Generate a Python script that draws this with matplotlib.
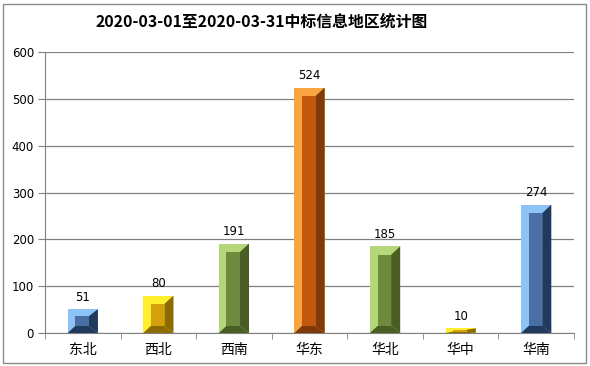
import matplotlib.pyplot as plt
from matplotlib.patches import Polygon, Rectangle

plt.rcParams["font.family"] = ["Noto Sans CJK SC", "DejaVu Sans"]

TITLE = "2020-03-01至2020-03-31中标信息地区统计图"
regions = ["东北", "西北", "西南", "华东", "华北", "华中", "华南"]
counts = [51, 80, 191, 524, 185, 10, 274]
yticks = [0, 100, 200, 300, 400, 500, 600]

# (light face, inner face, dark bevel) per colour family
palette = {
    "blue":   ("#8EC4F5", "#4A6FA4", "#1F3A5C"),
    "yellow": ("#FFEF2E", "#D4A00E", "#8C6C00"),
    "green":  ("#B6D67A", "#6E8B3D", "#4A5E24"),
    "orange": ("#F8A540", "#C0590E", "#7F3A0A"),
}
bar_colors = ["blue", "yellow", "green", "orange", "green", "yellow", "blue"]

BAR_W = 0.40
BEV_L, BEV_R = 0.10, 0.12
BEV_T, BEV_B = 18, 15


def draw_bevel_bar(ax, xc, h, colors):
    light, mid, dark = colors
    x0, x1 = xc - BAR_W / 2, xc + BAR_W / 2
    bt = min(BEV_T, h * 0.3)
    bb = min(BEV_B, h * 0.3)
    xi0, xi1 = x0 + BEV_L, x1 - BEV_R
    yi0, yi1 = bb, h - bt
    ax.add_patch(Rectangle((x0, 0), BAR_W, h, fc=light, ec="none", zorder=3))
    ax.add_patch(Polygon([(x1, 0), (x1, h), (xi1, yi1), (xi1, yi0)],
                         fc=dark, ec="none", zorder=3))
    ax.add_patch(Polygon([(x0, 0), (x1, 0), (xi1, yi0), (xi0, yi0)],
                         fc=dark, ec="none", zorder=3))
    ax.add_patch(Rectangle((xi0, yi0), xi1 - xi0, yi1 - yi0, fc=mid, ec="none", zorder=3))


fig = plt.figure(figsize=(5.9, 3.66), dpi=100)
fig.patches.append(Rectangle((3 / 590, 3 / 366), 583 / 590, 359 / 366,
                             transform=fig.transFigure, fill=False,
                             ec="#8c8c8c", lw=1))
ax = fig.add_axes([45 / 590, 33 / 366, 529 / 590, 281 / 366])

for i, (v, c) in enumerate(zip(counts, bar_colors)):
    draw_bevel_bar(ax, i, v, palette[c])
    ax.annotate(str(v), (i, v), xytext=(0, 4), textcoords="offset points",
                ha="center", va="bottom", fontsize=8.5, family="DejaVu Sans")

ax.set_xlim(-0.5, len(regions) - 0.5)
ax.set_ylim(0, 600)
ax.set_yticks(yticks)
ax.set_yticklabels([str(t) for t in yticks], fontsize=8.5, family="DejaVu Sans")
ax.set_xticks(range(len(regions)))
ax.set_xticklabels(regions, fontsize=10)
ax.set_xticks([i - 0.5 for i in range(len(regions) + 1)], minor=True)
ax.tick_params(axis="x", which="major", length=0, pad=7)
ax.tick_params(axis="x", which="minor", length=4, color="#808080", direction="out")
ax.tick_params(axis="y", length=5, color="#808080", pad=3)
ax.yaxis.grid(True, color="#808080", lw=0.9)
ax.set_axisbelow(True)
for side in ("top", "right"):
    ax.spines[side].set_visible(False)
for side in ("left", "bottom"):
    ax.spines[side].set_color("#808080")

fig.text(0.444, 1 - 22 / 366, TITLE, ha="center", va="center",
         fontsize=11.4, fontweight="bold")

fig.savefig("out.png", dpi=100)
